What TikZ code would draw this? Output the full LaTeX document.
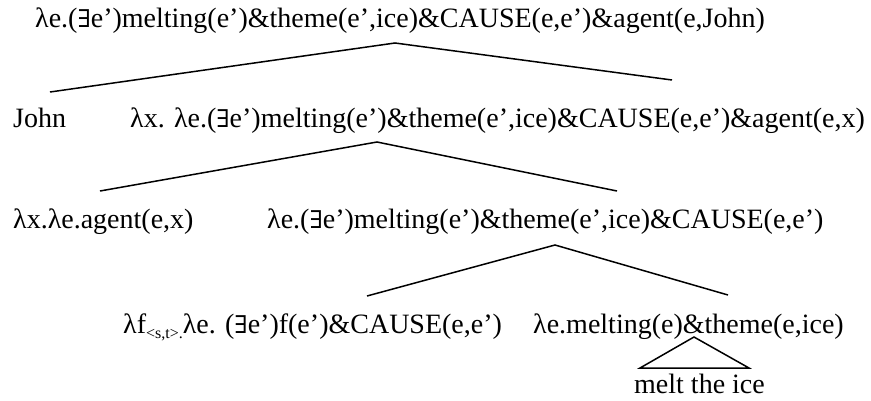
\documentclass[tikz,border=0pt]{standalone}
\usepackage{fontspec}
\setmainfont{Liberation Serif}
\newfontfamily\symf{DejaVu Serif}
\newcommand{\myex}{{\symf\fontsize{24.5}{27}\selectfont ∃}}
\newcommand{\mysub}[1]{\raisebox{-5pt}{\fontsize{16}{17}\selectfont #1}}
\begin{document}
\begin{tikzpicture}[x=1pt,y=-1pt,
  lbl/.style={anchor=base west, inner sep=0pt, font=\fontsize{28}{32}\selectfont},
  br/.style={line width=1.5pt}]
\useasboundingbox (0,0) rectangle (871,400);
% texts
\node[lbl] (root) at (35,27) {λe.(\myex e’)melting(e’)\&theme(e’,ice)\&CAUSE(e,e’)\&agent(e,John)};
\node[lbl] (john) at (13,127) {John};
\node[lbl] (vp) at (130,127) {λx. λe.(\myex e’)melting(e’)\&theme(e’,ice)\&CAUSE(e,e’)\&agent(e,x)};
\node[lbl] (ag) at (13,228) {λx.λe.agent(e,x)};
\node[lbl] (cause) at (267,228) {λe.(\myex e’)melting(e’)\&theme(e’,ice)\&CAUSE(e,e’)};
\node[lbl] (fn) at (123,333) {λf\mysub{<s,t>.}λe. (\myex e’)f(e’)\&CAUSE(e,e’)};
\node[lbl] (melt) at (533,333) {λe.melting(e)\&theme(e,ice)};
\node[lbl] (ice) at (634,393) {melt the ice};
% branch points
\coordinate (a1) at (395,43);
\coordinate (l1) at (50,92);
\coordinate (r1) at (672,80);
\coordinate (a2) at (377,142);
\coordinate (l2) at (100,191);
\coordinate (r2) at (617,191);
\coordinate (a3) at (555,245);
\coordinate (l3) at (367,296);
\coordinate (r3) at (728,295);
\coordinate (a4) at (694,337);
\coordinate (l4) at (640,368);
\coordinate (r4) at (749,368);
\draw[br] (l1) -- (a1) -- (r1);
\draw[br] (l2) -- (a2) -- (r2);
\draw[br] (l3) -- (a3) -- (r3);
\draw[br] (l4) -- (a4) -- (r4) -- cycle;
\end{tikzpicture}
\end{document}
